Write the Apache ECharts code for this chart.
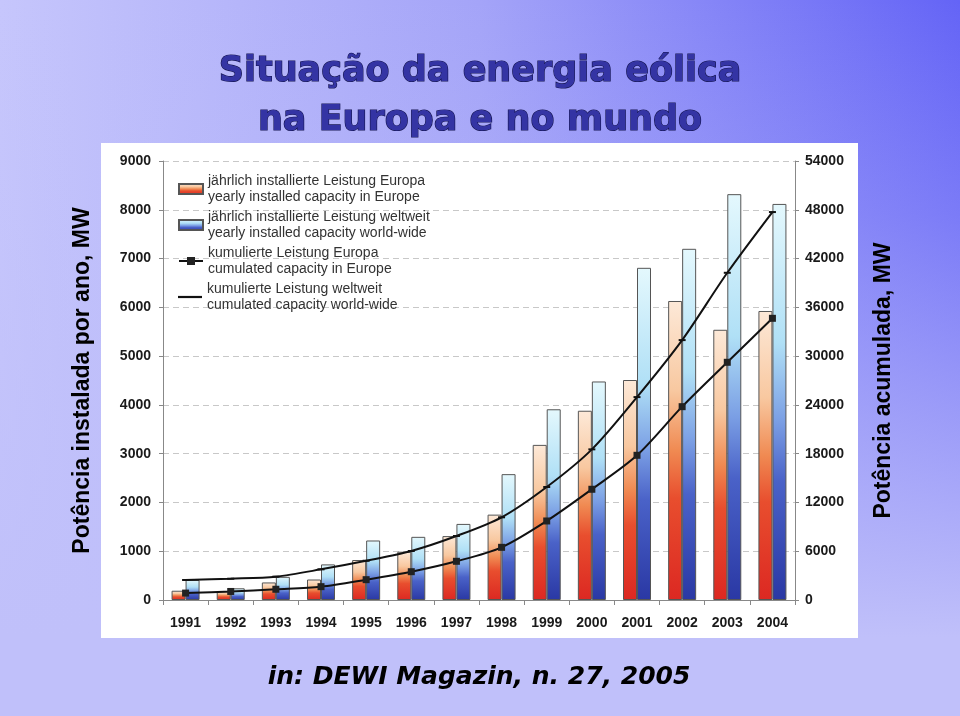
<!DOCTYPE html>
<html><head><meta charset="utf-8">
<script src="https://cdn.jsdelivr.net/npm/echarts@6/dist/echarts.min.js"></script>
<style>html,body{margin:0;padding:0;}#c{width:960px;height:716px;}</style>
</head><body><div id="c"></div>
<script>
const years = ['1991','1992','1993','1994','1995','1996','1997','1998','1999','2000','2001','2002','2003','2004'];
const euroAnnual = [190, 180, 360, 420, 820, 990, 1310, 1750, 3180, 3880, 4510, 6130, 5540, 5925];
const worldAnnual = [410, 240, 475, 730, 1220, 1295, 1560, 2580, 3910, 4480, 6810, 7200, 8320, 8120];
const euroCum = [850, 1050, 1320, 1640, 2500, 3480, 4760, 6480, 9720, 13620, 17800, 23780, 29240, 34650];
const worldCum = [2460, 2620, 2870, 3770, 4830, 6030, 7870, 10170, 13900, 18530, 24960, 31970, 40250, 47720];
const names = [
  'jährlich installierte Leistung Europa\nyearly installed capacity in Europe',
  'jährlich installierte Leistung weltweit\nyearly installed capacity world-wide',
  'kumulierte Leistung Europa\ncumulated capacity in Europe',
  'kumulierte Leistung weltweit\ncumulated capacity world-wide'
];
const legendIcons = ['rect','rect',undefined,'path://M0,9h24v2.2h-24z'];
const FF = '"Liberation Sans", Arial, sans-serif';
const euroGrad = new echarts.graphic.LinearGradient(0,0,0,1,[
  {offset:0,color:'#fde9d8'},{offset:0.3,color:'#f8c8a0'},{offset:0.5,color:'#f08a52'},{offset:0.66,color:'#e84e2e'},{offset:1,color:'#dc2822'}]);
const worldGrad = new echarts.graphic.LinearGradient(0,0,0,1,[
  {offset:0,color:'#e4f8fd'},{offset:0.35,color:'#b0e0f6'},{offset:0.55,color:'#7a9ee4'},{offset:0.7,color:'#4a62c8'},{offset:1,color:'#2a38a4'}]);
const legTop = [165,201,237,273];
const plain = v => String(v);
const chart = echarts.init(document.getElementById('c'));
chart.setOption({
  animation:false,
  graphic:[
    {type:'rect',z:-10,shape:{x:0,y:0,width:960,height:716},style:{fill:new echarts.graphic.LinearGradient(0,0,1,0,[{offset:0,color:'#c6c6fc'},{offset:0.5,color:'#a4a4f8'},{offset:1,color:'#6464f6'}])}},
    {type:'rect',z:-9,shape:{x:0,y:0,width:960,height:716},style:{fill:new echarts.graphic.LinearGradient(0,0,0,1,[{offset:0,color:'rgba(192,192,250,0)'},{offset:0.3,color:'rgba(192,192,250,0.25)'},{offset:0.78,color:'rgba(192,192,250,0.85)'},{offset:0.89,color:'rgba(192,192,250,1)'},{offset:1,color:'rgba(192,192,250,1)'}])}},
    {type:'rect',z:-8,shape:{x:101,y:143,width:757,height:495},style:{fill:'#ffffff'}}
  ],
  title:[
    {text:'Situação da energia eólica\nna Europa e no mundo',left:'center',top:42,
     textStyle:{fontFamily:'"DejaVu Sans", sans-serif',fontWeight:'bold',fontSize:35,lineHeight:49,color:'#3434a4',
       textBorderColor:'#151550',textBorderWidth:1.2,textShadowColor:'#000',textShadowOffsetX:2,textShadowOffsetY:2,textShadowBlur:0}},
    {text:'in: DEWI Magazin, n. 27, 2005',left:474,textAlign:'center',top:660,
     textStyle:{fontFamily:'"DejaVu Sans", sans-serif',fontStyle:'italic',fontWeight:'bold',fontSize:25,color:'#000',
       textShadowColor:'rgba(255,255,255,0.8)',textShadowOffsetX:1,textShadowOffsetY:1,textShadowBlur:0}}
  ],
  legend: names.map((n,i)=>({
    data:[legendIcons[i] ? {name:n, icon:legendIcons[i]} : {name:n}], left:178, top:legTop[i], orient:'vertical',
    itemWidth:24, itemHeight:10, itemGap:0, padding:0,
    selectedMode:false,
    textStyle:{fontFamily:FF,fontSize:14,color:'#333',lineHeight:16,padding:[16,0,0,0]}
  })),
  grid:{left:163,right:165,top:161,bottom:116},
  xAxis:{type:'category',data:years,
    axisLine:{lineStyle:{color:'#888',width:1}},
    axisTick:{show:true,length:5,lineStyle:{color:'#888'}},
    axisLabel:{fontFamily:FF,fontWeight:'bold',fontSize:14,color:'#1a1a1a',margin:16}},
  yAxis:[
    {type:'value',min:0,max:9000,interval:1000,position:'left',
     name:'Potência instalada por ano, MW',nameLocation:'middle',nameGap:69,nameRotate:90,
     nameTextStyle:{fontFamily:FF,fontWeight:'bold',fontSize:23,color:'#000'},
     axisLine:{show:true,lineStyle:{color:'#888'}},
     axisTick:{show:true,length:4,lineStyle:{color:'#888'}},
     axisLabel:{fontFamily:FF,fontWeight:'bold',fontSize:14,color:'#1a1a1a',margin:12,formatter:plain},
     splitLine:{show:true,lineStyle:{color:'#c8c8c8',type:[6,4],width:1}}},
    {type:'value',min:0,max:54000,interval:6000,position:'right',
     name:'Potência acumulada, MW',nameLocation:'middle',nameGap:77,nameRotate:90,
     nameTextStyle:{fontFamily:FF,fontWeight:'bold',fontSize:23,color:'#000'},
     axisLine:{show:true,lineStyle:{color:'#888'}},
     axisTick:{show:true,length:4,lineStyle:{color:'#888'}},
     axisLabel:{fontFamily:FF,fontWeight:'bold',fontSize:14,color:'#1a1a1a',margin:10,formatter:plain},
     splitLine:{show:false}}
  ],
  series:[
    {name:names[0],type:'bar',data:euroAnnual,barWidth:14,barGap:'0%',yAxisIndex:0,
     itemStyle:{color:euroGrad,borderColor:'#555',borderWidth:1}},
    {name:names[1],type:'bar',data:worldAnnual,barWidth:14,barGap:'0%',yAxisIndex:0,
     itemStyle:{color:worldGrad,borderColor:'#555',borderWidth:1}},
    {name:names[2],type:'line',data:euroCum,yAxisIndex:1,smooth:0.3,z:5,
     symbol:'rect',symbolSize:7,lineStyle:{color:'#111',width:2},itemStyle:{color:'#222'}},
    {name:names[3],type:'line',data:worldCum,yAxisIndex:1,smooth:0.3,z:5,
     symbol:'rect',symbolSize:[7,2],lineStyle:{color:'#111',width:2},itemStyle:{color:'#111'}}
  ]
});
</script></body></html>
